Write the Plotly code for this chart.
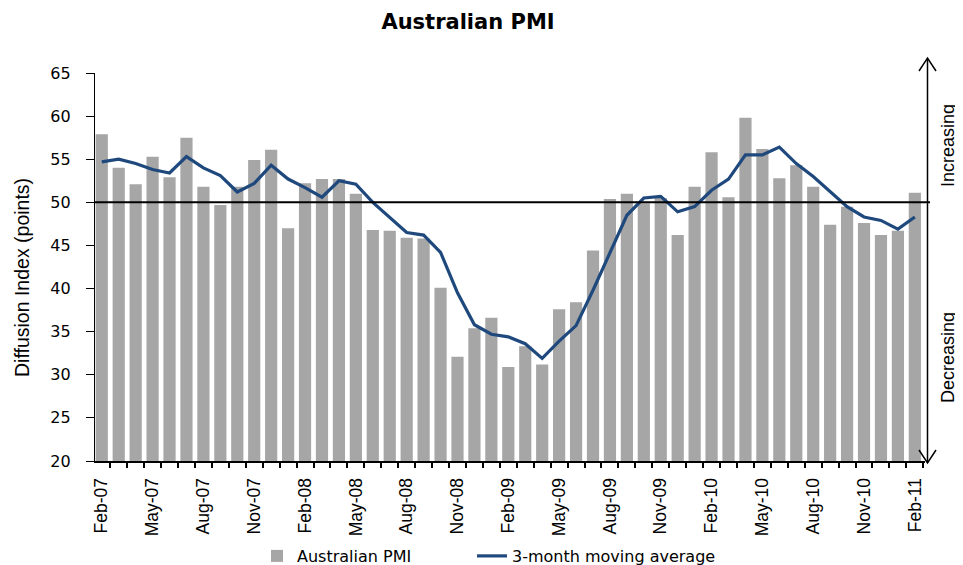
import plotly.graph_objects as go

months = ["Feb-07", "Mar-07", "Apr-07", "May-07", "Jun-07", "Jul-07", "Aug-07", "Sep-07", "Oct-07", "Nov-07", "Dec-07",
          "Jan-08", "Feb-08", "Mar-08", "Apr-08", "May-08", "Jun-08", "Jul-08", "Aug-08", "Sep-08", "Oct-08", "Nov-08", "Dec-08",
          "Jan-09", "Feb-09", "Mar-09", "Apr-09", "May-09", "Jun-09", "Jul-09", "Aug-09", "Sep-09", "Oct-09", "Nov-09", "Dec-09",
          "Jan-10", "Feb-10", "Mar-10", "Apr-10", "May-10", "Jun-10", "Jul-10", "Aug-10", "Sep-10", "Oct-10", "Nov-10", "Dec-10",
          "Jan-11", "Feb-11"]

pmi = [57.9, 54.0, 52.1, 55.3, 52.9, 57.5, 51.8, 49.7, 51.8, 54.9,
       56.1, 47.0, 52.2, 52.7, 52.7, 51.0, 46.8, 46.7, 45.9, 45.8,
       40.1, 32.1, 35.4, 36.6, 30.9, 33.3, 31.2, 37.6, 38.4, 44.4,
       50.4, 51.0, 49.9, 50.5, 46.2, 51.8, 55.8, 50.6, 59.8, 56.2,
       52.8, 54.3, 51.8, 47.4, 49.5, 47.6, 46.2, 46.7, 51.1]

moving_avg = [54.7, 55.0, 54.5, 53.8, 53.4, 55.3, 54.0, 53.1, 51.2, 52.2,
              54.3, 52.7, 51.7, 50.6, 52.5, 52.1, 50.0, 48.2, 46.5, 46.2,
              44.2, 39.5, 35.8, 34.7, 34.4, 33.6, 31.9, 33.9, 35.7, 39.8,
              44.1, 48.5, 50.5, 50.7, 48.9, 49.5, 51.4, 52.7, 55.5, 55.5,
              56.4, 54.5, 53.0, 51.3, 49.5, 48.3, 47.9, 46.9, 48.3]

y_ticks = [20, 25, 30, 35, 40, 45, 50, 55, 60, 65]
threshold = 50

x_idx = list(range(len(months)))
tick_idx = x_idx[::3]
tick_txt = months[::3]

# page body has an 8px margin: figure is shifted by OFF on screen
OFF = 8
SW, SH = 963, 565                     # screen size
W, H = SW - OFF, SH - OFF             # figure size
PL, PR, PT, PB = 95, 925, 73, 461     # plot area on screen
L, R, T, B = PL - OFF, W - (PR - OFF), PT - OFF, H - (PB - OFF)
pw, ph = PR - PL, PB - PT

def px_x(p):  # screen pixel -> paper x
    return (p - PL) / pw

def px_y(p):  # screen pixel -> paper y
    return (PB - p) / ph

cond = "Liberation Sans, Arial"
leg_font = dict(family="DejaVu Sans", size=16, color="black")

fig = go.Figure()
fig.add_trace(go.Bar(x=x_idx, y=pmi, name="Australian PMI", marker=dict(color="#A6A6A6", line=dict(width=0)),
                     width=0.72, legend="legend"))
fig.add_trace(go.Scatter(x=x_idx, y=moving_avg, name="3-month moving average", mode="lines",
                         line=dict(color="#1F497D", width=3.2), legend="legend2"))

ax = px_x(927.5)
top = px_y(58)
bot = px_y(463)
hw = 8.5 / pw
hh = 13 / ph
shapes = [
    dict(type="line", xref="paper", yref="y", x0=0, x1=px_x(930), y0=threshold, y1=threshold,
         line=dict(color="black", width=2), layer="above"),
    dict(type="line", xref="paper", yref="paper", x0=ax, x1=ax, y0=bot, y1=top,
         line=dict(color="black", width=1.5)),
    dict(type="path", xref="paper", yref="paper",
         path=f"M {ax-hw} {top-hh} L {ax} {top} L {ax+hw} {top-hh}", line=dict(color="black", width=1.5)),
    dict(type="path", xref="paper", yref="paper",
         path=f"M {ax-hw} {bot+hh} L {ax} {bot} L {ax+hw} {bot+hh}", line=dict(color="black", width=1.5)),
]

annotations = [
    dict(text="Diffusion Index (points)", xref="paper", yref="paper", x=px_x(22), y=px_y(278),
         textangle=-90, showarrow=False, font=dict(family=cond, size=19.5, color="black"),
         xanchor="center", yanchor="middle"),
    dict(text="Increasing", xref="paper", yref="paper", x=px_x(948), y=px_y(146),
         textangle=-90, showarrow=False, font=dict(family=cond, size=18, color="black"),
         xanchor="center", yanchor="middle"),
    dict(text="Decreasing", xref="paper", yref="paper", x=px_x(948), y=px_y(358),
         textangle=-90, showarrow=False, font=dict(family=cond, size=18, color="black"),
         xanchor="center", yanchor="middle"),
]

fig.update_layout(
    template="none",
    width=W, height=H,
    margin=dict(l=L, r=R, t=T, b=B, autoexpand=False),
    paper_bgcolor="white", plot_bgcolor="white",
    title=dict(text="<b>Australian PMI</b>", x=(468 - OFF) / W, xref="container", xanchor="center",
               y=1 - (22 - OFF) / H, yref="container", yanchor="middle",
               font=dict(family="DejaVu Sans", size=21, color="black")),
    showlegend=True,
    legend=dict(orientation="h", x=px_x(257), xanchor="left", y=px_y(539), yanchor="top",
                font=leg_font, bgcolor="rgba(0,0,0,0)"),
    legend2=dict(orientation="h", x=px_x(472), xanchor="left", y=px_y(539), yanchor="top",
                 font=leg_font, bgcolor="rgba(0,0,0,0)"),
    shapes=shapes,
    annotations=annotations,
)

fig.update_xaxes(
    range=[-0.4, 48.6], tickmode="array", tickvals=tick_idx, ticktext=tick_txt, tickangle=-90,
    ticks="", showgrid=False, zeroline=False, showline=True, linecolor="black", linewidth=2,
    tickfont=dict(family="Liberation Sans, Arial", size=17.5, color="black"),
    ticklabelstandoff=8, automargin=False,
    minor=dict(ticks="outside", ticklen=5, tickcolor="black", tickwidth=1.5, tick0=0.5, dtick=1, showgrid=False),
)
fig.update_yaxes(
    range=[20, 65], tickmode="array", tickvals=y_ticks, ticks="outside", ticklen=8, tickcolor="black",
    tickwidth=1, showgrid=False, zeroline=False, showline=True, linecolor="black", linewidth=1.2,
    tickfont=dict(family="DejaVu Sans", size=16, color="black"), ticklabelstandoff=12, automargin=False,
)

fig.write_html("out.html")
